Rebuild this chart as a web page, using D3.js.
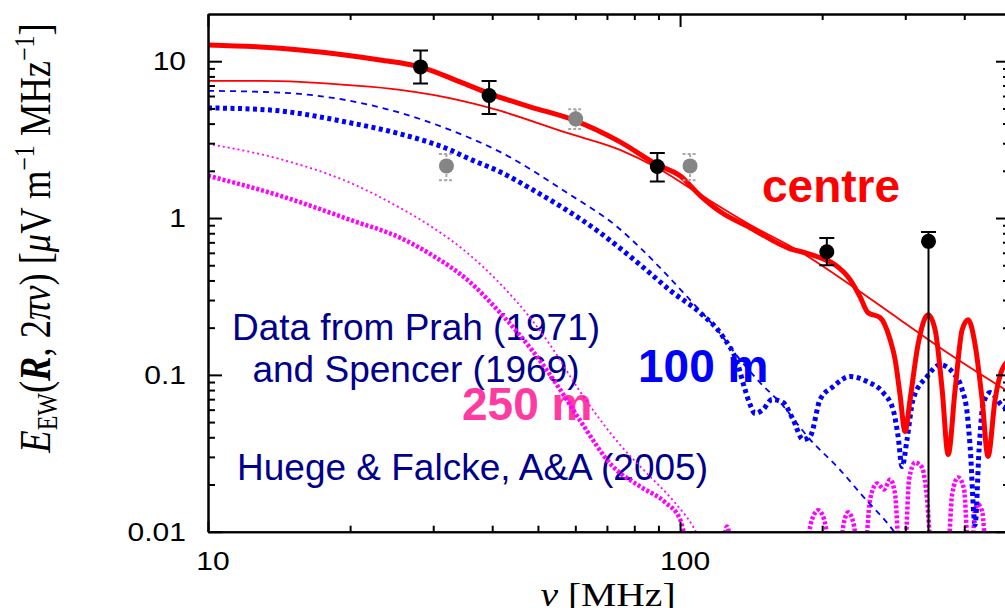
<!DOCTYPE html>
<html>
<head>
<meta charset="utf-8">
<script src="https://cdn.jsdelivr.net/npm/d3@7"></script>
<style>
  body { margin: 0; background: #fff; }
  text { font-family: "Liberation Sans", Arial, sans-serif; }
</style>
</head>
<body>
<svg id="chart" width="1005" height="608"></svg>
<script>
// axis ticks
const xMajor = [10, 100];
const xTickLabels = ["10", "100"];
const xMinor = [20, 30, 40, 50, 60, 70, 80, 90, 200, 300, 400];
const yMajor = [0.01, 0.1, 1, 10];
const yTickLabels = ["0.01", "0.1", "1", "10"];
const yMinor = [0.02, 0.03, 0.04, 0.05, 0.06, 0.07, 0.08, 0.09,
  0.2, 0.3, 0.4, 0.5, 0.6, 0.7, 0.8, 0.9, 2, 3, 4, 5, 6, 7, 8, 9];

// curves: [frequency MHz, field strength uV/m/MHz]
const centreFull = [[10, 12.7], [12.89, 12.33], [15.66, 11.8], [19.51, 10.97], [23.14, 10.19],
  [28.13, 9.2], [34.2, 7.38], [39.58, 6.19], [48.11, 5.12], [59.33, 4.23], [74.64, 3.06],
  [89.4, 2.19], [100, 1.86], [110.3, 1.39], [121.5, 1.1], [140.7, 0.868], [171.1, 0.637],
  [184, 0.601], [198, 0.559], [213, 0.504], [229.2, 0.405], [240.6, 0.315], [250.2, 0.249],
  [265.2, 0.232], [278.6, 0.168], [285.5, 0.125], [292.4, 0.0749], [299.7, 0.0435],
  [307.1, 0.0696], [319.3, 0.156], [335.3, 0.242], [347, 0.194], [359.1, 0.0806],
  [369.8, 0.0311], [382.6, 0.0806], [395.9, 0.194], [407.6, 0.225], [421.7, 0.156],
  [436.4, 0.0696], [449.2, 0.0302], [464.9, 0.0696], [481, 0.108], [500, 0.125]];
const centreApprox = [[10, 7.49], [12.89, 7.49], [15.66, 7.38], [19.51, 7.06], [25.52, 6.57],
  [29.97, 6.1], [39.58, 5.04], [57.62, 3.49], [74.64, 2.72], [89.4, 2.09], [110.3, 1.41],
  [140.7, 0.906], [179.6, 0.61], [229.2, 0.376], [292.4, 0.225], [373.3, 0.135], [500, 0.0771]];
const m100Approx = [[10, 6.47], [12.89, 6.38], [15.66, 6.19], [19.99, 5.59], [25.52, 4.69],
  [32.56, 3.65], [41.56, 2.64], [57.62, 1.45], [73.55, 0.88], [82.3, 0.647], [103.5, 0.315],
  [119.8, 0.194], [134, 0.125], [147.7, 0.0893], [162.9, 0.0666], [188.6, 0.0387],
  [218, 0.0249], [244.1, 0.0168], [278.6, 0.0108], [292.4, 0.00893]];
const m100Full = [[10, 5.04], [13.34, 4.9], [19.99, 4.05], [25.52, 3.44], [32.56, 2.72],
  [35.39, 2.42], [41.56, 1.97], [48.82, 1.51], [67.68, 0.806], [82.3, 0.504], [96.65, 0.334],
  [110.3, 0.249], [123.3, 0.175], [132.1, 0.12], [137.3, 0.0806], [140.7, 0.0647],
  [144.2, 0.0567], [149.9, 0.0601], [156.6, 0.0696], [165.3, 0.0666], [173.6, 0.0519],
  [182.2, 0.0387], [188.6, 0.0405], [198, 0.0696], [211, 0.0842], [229.2, 0.0976], [249, 0.0907],
  [269.2, 0.0771], [282.7, 0.0601], [289.7, 0.0405], [295.3, 0.026], [302.6, 0.0387],
  [311.6, 0.0696], [333.7, 0.0976], [355.5, 0.116], [378.9, 0.103], [395.9, 0.0806],
  [405.6, 0.0575], [411.6, 0.0349], [421.7, 0.0111], [430, 0.0334], [438.5, 0.0647],
  [453.6, 0.0771], [483.4, 0.0628], [500, 0.0608]];
const m250Approx = [[10, 2.97], [14.41, 2.35], [19.99, 1.68], [25.52, 1.16], [29.97, 0.868],
  [35.39, 0.601], [41.56, 0.382], [48.82, 0.219], [53, 0.156], [61.4, 0.0783], [73.9, 0.0371],
  [85.14, 0.0235], [96.65, 0.0158], [106.5, 0.0108], [110.3, 0.0089]];
const m250Full = [[10, 1.86], [14.41, 1.37], [19.99, 0.975], [25.52, 0.749], [29.97, 0.575],
  [35.39, 0.405], [41.56, 0.249], [48.82, 0.141], [55.7, 0.0806], [61.4, 0.0512], [72.1, 0.026],
  [82.3, 0.0194], [92.96, 0.0154], [100, 0.012], [104, 0.0083], [122.7, 0.008], [125.8, 0.0108],
  [128.9, 0.008], [184, 0.008], [190.4, 0.012], [196.1, 0.0137], [201.9, 0.012], [207.8, 0.008],
  [218, 0.008], [222.6, 0.0116], [227, 0.0133], [232.6, 0.0116], [238.3, 0.008], [246.6, 0.008],
  [252.7, 0.0161], [261.5, 0.0203], [270.6, 0.0186], [278.6, 0.0215], [285.5, 0.0173],
  [291.1, 0.008], [299.7, 0.008], [305.6, 0.0215], [314.7, 0.0276], [325.6, 0.0257],
  [333.7, 0.0161], [340.3, 0.008], [369.8, 0.008], [377, 0.0173], [388.2, 0.0222],
  [399.7, 0.0186], [407.6, 0.008], [415.6, 0.008], [421.7, 0.0139], [427.9, 0.0149],
  [436.4, 0.0135], [444.9, 0.008], [500, 0.008]];

// measurements: [frequency, value, lower, upper]
const pointsPrah = [[28.2, 9.2, 7.2, 11.7], [39.4, 6.04, 4.6, 7.49], [89.5, 2.13, 1.71, 2.6],
  [204.6, 0.61, 0.5, 0.746], [336, 0.71, 0.005, 0.814]];
const pointsSpencer = [[32.0, 2.15, 1.74, 2.56], [60.1, 4.29, 3.69, 4.94], [105, 2.15, 1.74, 2.56]];

var svg = d3.select("#chart");

var x = d3.scaleLog().domain([10, 500]).range([208, 1010]);
var y = d3.scaleLog().domain([0.01, 20]).range([531.7, 14]);

var plotL = x.range()[0], plotR = x.range()[1],
  plotB = y.range()[0], plotT = y.range()[1];

svg.append("defs").append("clipPath").attr("id", "plotclip")
  .append("rect").attr("x", plotL).attr("y", plotT)
  .attr("width", plotR - plotL).attr("height", plotB - plotT);

// annotations sit under the curves
function note(t, px, py, size, color, weight, anchor) {
  svg.append("text").attr("x", px).attr("y", py)
    .attr("text-anchor", anchor || "start")
    .style("font-size", size + "px").style("font-weight", weight)
    .attr("fill", color).text(t);
}
note("Data from Prah (1971)", 416, 340, 37, "#00008c", "normal", "middle");
note("and Spencer (1969)", 416, 382, 37, "#00008c", "normal", "middle");
note("Huege & Falcke, A&A (2005)", 237, 480, 37, "#00008c", "normal");
note("centre", 762, 202, 46, "#ff0000", "bold");
note("100 m", 638, 382, 46, "#0000ff", "bold");
note("250 m", 462, 420, 46, "#ff3aa0", "bold");

// curves
var line = d3.line()
  .x(function (d) { return x(d[0]); })
  .y(function (d) { return y(d[1]); })
  .curve(d3.curveMonotoneX);

var curves = [
  { data: m250Approx, color: "#ff00ff", width: 1.8, dash: "2,3" },
  { data: m250Full, color: "#ff00ff", width: 4.5, dash: "3,2" },
  { data: m100Approx, color: "#0000ff", width: 1.8, dash: "6,5" },
  { data: m100Full, color: "#0000ff", width: 5, dash: "4,3.5" },
  { data: centreApprox, color: "#ff0000", width: 1.8, dash: null },
  { data: centreFull, color: "#ff0000", width: 5, dash: null }
];

var gCurves = svg.append("g").attr("clip-path", "url(#plotclip)");
curves.forEach(function (c) {
  gCurves.append("path")
    .attr("d", line(c.data))
    .attr("fill", "none")
    .attr("stroke", c.color)
    .attr("stroke-width", c.width)
    .attr("stroke-dasharray", c.dash)
    .attr("stroke-linejoin", "round");
});

// measured points with error bars
function drawPoints(pts, color, barColor, dash) {
  var g = svg.append("g").attr("clip-path", "url(#plotclip)");
  pts.forEach(function (p) {
    var cx = x(p[0]);
    var lo = Math.max(p[2], 0.01);
    g.append("line").attr("x1", cx).attr("x2", cx)
      .attr("y1", y(p[3])).attr("y2", y(lo))
      .attr("stroke", barColor).attr("stroke-width", 2).attr("stroke-dasharray", dash);
    [p[3], p[2]].forEach(function (v) {
      if (v < 0.01) return;
      g.append("line").attr("x1", cx - 7.5).attr("x2", cx + 7.5)
        .attr("y1", y(v)).attr("y2", y(v))
        .attr("stroke", barColor).attr("stroke-width", 2).attr("stroke-dasharray", dash);
    });
    g.append("circle").attr("cx", cx).attr("cy", y(p[1])).attr("r", 7.5).attr("fill", color);
  });
}
drawPoints(pointsSpencer, "#858585", "#a8a8a8", "3,2");
drawPoints(pointsPrah, "#000", "#000", null);

// axes: ticks point inwards on all four sides
function axis(gen, pos, values, size) {
  svg.append("g").attr("transform", pos)
    .call(gen.tickValues(values).tickSizeInner(size).tickSizeOuter(0).tickFormat(""))
    .call(function (g) {
      g.selectAll("path, line").attr("stroke", "#000").attr("stroke-width", 2);
    });
}
axis(d3.axisBottom(x), "translate(0," + plotB + ")", xMajor, -10);
axis(d3.axisBottom(x), "translate(0," + plotB + ")", xMinor, -6);
axis(d3.axisTop(x), "translate(0," + plotT + ")", xMajor, -13);
axis(d3.axisTop(x), "translate(0," + plotT + ")", xMinor, -6);
axis(d3.axisLeft(y), "translate(" + plotL + ",0)", yMajor, -14);
axis(d3.axisLeft(y), "translate(" + plotL + ",0)", yMinor, -7);
axis(d3.axisRight(y), "translate(" + plotR + ",0)", yMajor, -14);
axis(d3.axisRight(y), "translate(" + plotR + ",0)", yMinor, -7);

// tick labels (the original figure is stretched horizontally)
svg.selectAll(".ylab").data(yMajor).join("text")
  .attr("class", "ylab")
  .attr("transform", function (d) { return "translate(186," + (y(d) + 9) + ") scale(1.2,1)"; })
  .attr("text-anchor", "end")
  .style("font-size", "25px")
  .text(function (d, i) { return yTickLabels[i]; });

svg.selectAll(".xlab").data(xMajor).join("text")
  .attr("class", "xlab")
  .attr("transform", function (d) { return "translate(" + (x(d) + 5) + ",570) scale(1.2,1)"; })
  .attr("text-anchor", "middle")
  .style("font-size", "25px")
  .text(function (d, i) { return xTickLabels[i]; });

// axis titles
var serif = "'Liberation Serif', 'DejaVu Serif', serif";

var xt = svg.append("text")
  .attr("transform", "translate(608,606) scale(1.2,1)")
  .attr("text-anchor", "middle")
  .style("font-family", serif).style("font-size", "33px");
xt.append("tspan").attr("font-style", "italic").text("ν");
xt.append("tspan").text(" [MHz]");

var yt = svg.append("text")
  .attr("transform", "translate(50,238) scale(1.2,1) rotate(-90)")
  .attr("text-anchor", "middle")
  .style("font-family", serif).style("font-size", "36.5px");
yt.append("tspan").attr("font-style", "italic").text("E");
yt.append("tspan").style("font-size", "24px").attr("dy", 6).text("EW");
yt.append("tspan").attr("dy", -6).text("(");
yt.append("tspan").attr("font-style", "italic").attr("font-weight", "bold").text("R");
yt.append("tspan").text(", 2");
yt.append("tspan").attr("font-style", "italic").text("πν");
yt.append("tspan").text(") [");
yt.append("tspan").attr("font-style", "italic").text("μ");
yt.append("tspan").text("V m");
yt.append("tspan").style("font-size", "24px").attr("dy", -13).text("−1");
yt.append("tspan").attr("dy", 13).text(" MHz");
yt.append("tspan").style("font-size", "24px").attr("dy", -13).text("−1");
yt.append("tspan").attr("dy", 13).text("]");
</script>
</body>
</html>
